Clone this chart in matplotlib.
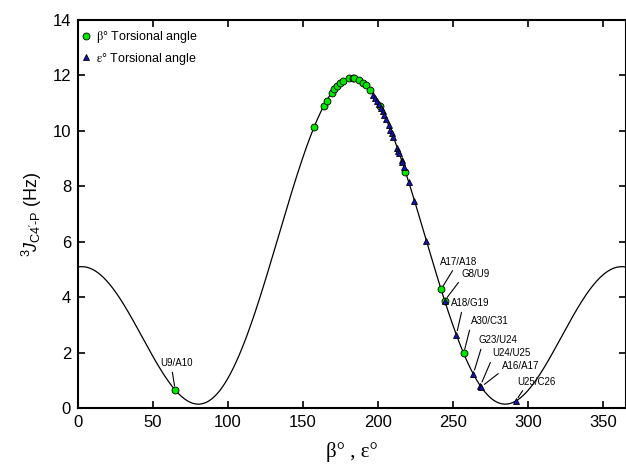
import numpy as np
import matplotlib
matplotlib.use("Agg")
import matplotlib.pyplot as plt

# Karplus relation 3J = A cos^2(t) + B cos(t) + C, t = angle - phase
karplus_A = 8.0
karplus_B = -3.4
karplus_C = 0.5
karplus_phase = 2.5

# beta torsion angles (deg) and coupling (Hz)
beta_ang = [64.8, 157.3, 163.8, 165.7, 169.1, 170.8, 172.7, 174.7, 176.4, 180.7, 183.4,
            184.3, 187.0, 189.9, 191.7, 194.5, 201.1, 218.2, 242.0, 244.4, 257.1]
beta_J = [0.65, 10.13, 10.90, 11.09, 11.38, 11.50, 11.62, 11.72, 11.79, 11.89, 11.90,
          11.89, 11.84, 11.74, 11.65, 11.48, 10.91, 8.53, 4.28, 3.87, 1.97]

# epsilon torsion angles (deg) and coupling (Hz)
eps_ang = [196.9, 198.3, 199.6, 200.5, 201.9, 203.0, 204.1, 205.4, 207.0, 208.3, 209.1,
           210.1, 212.9, 213.5, 214.2, 215.7, 216.2, 217.1, 220.4, 224.3, 232.2, 244.4,
           252.2, 263.5, 268.2, 268.7, 291.8]
eps_J = [11.30, 11.18, 11.06, 10.97, 10.82, 10.70, 10.58, 10.42, 10.22, 10.04, 9.94,
         9.79, 9.38, 9.29, 9.19, 8.95, 8.86, 8.71, 8.17, 7.48, 6.04, 3.87,
         2.64, 1.23, 0.80, 0.76, 0.25]

# labelled residues: name, series, index into that series
labels = ["U9/A10", "A17/A18", "G8/U9", "A18/G19", "A30/C31",
          "G23/U24", "U24/U25", "A16/A17", "U25/C26"]
label_series = ["b", "b", "b", "e", "b", "e", "e", "e", "e"]
label_idx = [0, 18, 19, 22, 20, 23, 24, 25, 26]
label_text_pos = [(65.7, 1.62), (253.8, 5.28), (265.0, 4.85), (261.4, 3.78),
                  (274.3, 3.14), (279.8, 2.45), (288.8, 1.97), (295.2, 1.53),
                  (305.8, 0.95)]
label_relx = [0.35, 0.4, 0.0, 0.3, 0.0, 0.1, 0.0, 0.0, 0.2]

plt.rcParams["font.family"] = ["Liberation Sans", "DejaVu Sans"]
plt.rcParams["mathtext.fontset"] = "custom"
plt.rcParams["mathtext.rm"] = "Liberation Sans"
plt.rcParams["mathtext.it"] = "Liberation Sans:italic"

fig = plt.figure(figsize=(6.26, 4.65), dpi=100)
ax = fig.add_axes([78 / 626, 57 / 465, 1 - 78 / 626, 388 / 465])

theta = np.linspace(0, 370, 1000)
t = np.radians(theta - karplus_phase)
curve = karplus_A * np.cos(t) ** 2 + karplus_B * np.cos(t) + karplus_C
ax.plot(theta, curve, color="black", lw=0.9, zorder=1)

ax.plot(beta_ang, beta_J, "o", ms=5, mfc="#00e600", mec="black", mew=0.6,
        ls="none", zorder=3, label=r"$\mathrm{β}$° Torsional angle")
ax.plot(eps_ang, eps_J, "^", ms=5, mfc="#1414b4", mec="black", mew=0.6,
        ls="none", zorder=4, label=r"$\mathrm{ε}$° Torsional angle")

for name, s, i, pos, rx in zip(labels, label_series, label_idx, label_text_pos, label_relx):
    if s == "b":
        pt = (beta_ang[i], beta_J[i])
    else:
        pt = (eps_ang[i], eps_J[i])
    ax.annotate(name, xy=pt, xytext=pos, ha="center", va="center", fontsize=7,
                arrowprops=dict(arrowstyle="-", color="black", lw=0.8,
                                relpos=(rx, 0.0), shrinkA=1, shrinkB=3))

ax.set_xlim(0, 365.3)
ax.set_ylim(0, 14)
ax.set_xticks(range(0, 351, 50))
ax.set_yticks(range(0, 15, 2))
ax.tick_params(direction="in", length=5, width=1.2, top=True, right=True,
               labelsize=12, pad=5)
for sp in ax.spines.values():
    sp.set_linewidth(1.5)

ax.set_xlabel("β° , ε°", family="Liberation Serif", fontsize=15, labelpad=9)
ax.set_ylabel("$^{3}\\!J_{\\mathrm{C4'\u2010P}}$ (Hz)", fontsize=13, labelpad=6)

leg = ax.legend(loc="upper left", bbox_to_anchor=(-0.006, 0.99), frameon=False,
                fontsize=9, handletextpad=0.3, labelspacing=0.45, borderaxespad=0.1,
                handlelength=1.0, borderpad=0.3, markerscale=1.0)
for txt in leg.get_texts():
    txt.set_math_fontfamily("stix")

fig.savefig("out.png", dpi=100)
